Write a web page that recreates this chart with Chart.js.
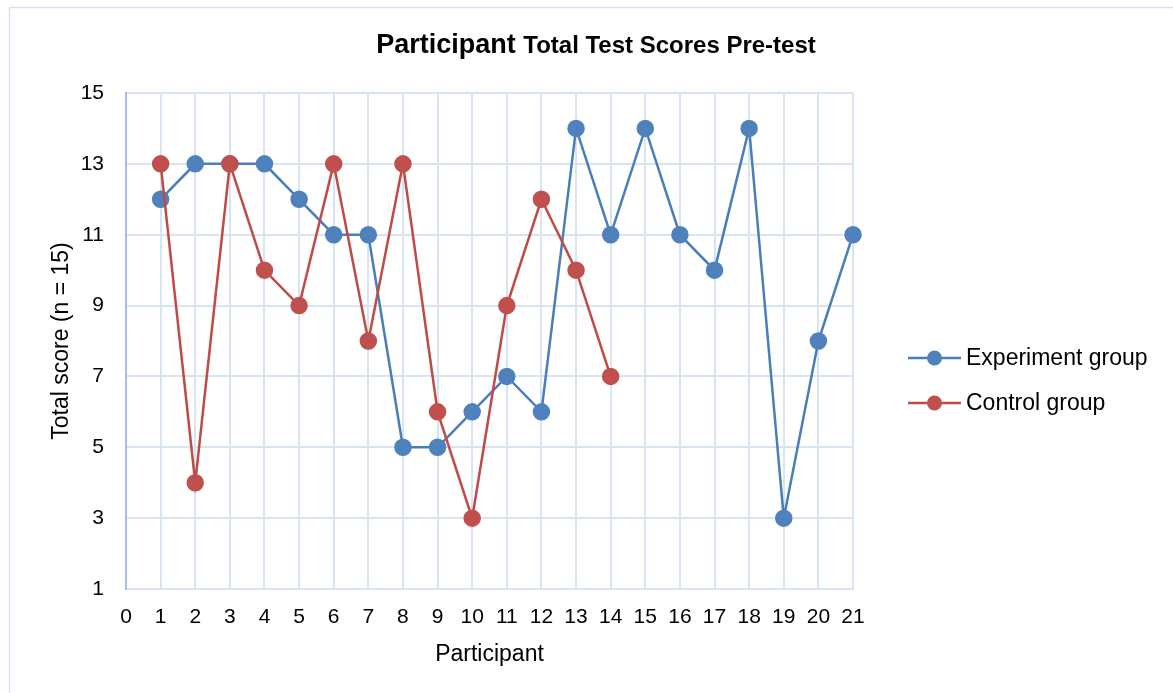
<!DOCTYPE html>
<html>
<head>
<meta charset="utf-8">
<script src="https://cdn.jsdelivr.net/npm/chart.js@4.4.1/dist/chart.umd.min.js"></script>
<style>
  body { margin: 0; background: #fff; }
  #wrap { width: 1173px; height: 693px; position: relative; }
</style>
</head>
<body>
<div id="wrap"><canvas id="grafico"></canvas></div>
<script>
const participantes = [1, 2, 3, 4, 5, 6, 7, 8, 9, 10, 11, 12, 13, 14, 15, 16, 17, 18, 19, 20, 21];
const experimento = [12, 13, 13, 13, 12, 11, 11, 5, 5, 6, 7, 6, 14, 11, 14, 11, 10, 14, 3, 8, 11];
const controle = [13, 4, 13, 10, 9, 13, 8, 13, 6, 3, 9, 12, 10, 7];
const nomes = ['Experiment group', 'Control group'];
const yTicks = [1, 3, 5, 7, 9, 11, 13, 15];

const azul = '#4a7ebb';
const vermelho = '#be4b48';
const grade = '#d9e4f3';
const fonte = "'Liberation Sans', Arial, sans-serif";

function pontos(valores) {
  return valores.map((v, i) => ({ x: participantes[i], y: v }));
}

// moldura externa + titulo com dois tamanhos
const moldura = {
  id: 'moldura',
  beforeDraw(chart) {
    const ctx = chart.ctx;
    ctx.save();
    ctx.strokeStyle = '#d6e2f1';
    ctx.lineWidth = 1.5;
    ctx.strokeRect(9.5, 7.5, 3000, 3000);
    ctx.restore();
  },
  afterDraw(chart) {
    const ctx = chart.ctx;
    ctx.save();
    ctx.fillStyle = '#000';
    ctx.textBaseline = 'alphabetic';
    const a = 'Participant ';
    const b = 'Total Test Scores Pre-test';
    ctx.font = 'bold 27px ' + fonte;
    const wa = ctx.measureText(a).width;
    ctx.font = 'bold 24px ' + fonte;
    const wb = ctx.measureText(b).width;
    let x = 596 - (wa + wb) / 2;
    ctx.font = 'bold 27px ' + fonte;
    ctx.fillText(a, x, 53);
    ctx.font = 'bold 24px ' + fonte;
    ctx.fillText(b, x + wa, 53);
    ctx.restore();
  }
};

// legenda com linha e marcador
const legenda = {
  id: 'legenda',
  afterDraw(chart) {
    const ctx = chart.ctx;
    ctx.save();
    chart.data.datasets.forEach((ds, i) => {
      const y = 358 + 45 * i;
      ctx.strokeStyle = ds.borderColor;
      ctx.lineWidth = 2.5;
      ctx.beginPath();
      ctx.moveTo(908, y);
      ctx.lineTo(961, y);
      ctx.stroke();
      ctx.fillStyle = ds.pointBackgroundColor;
      ctx.beginPath();
      ctx.arc(934.5, y, 7.5, 0, Math.PI * 2);
      ctx.fill();
      ctx.fillStyle = '#000';
      ctx.font = '23px ' + fonte;
      ctx.textBaseline = 'middle';
      ctx.fillText(ds.label, 966, y + 1);
    });
    ctx.restore();
  }
};

const ctx = document.getElementById('grafico').getContext('2d');
const grafico = new Chart(ctx, {
  type: 'line',
  data: {
    datasets: [
      {
        label: nomes[0],
        data: pontos(experimento),
        borderColor: azul,
        backgroundColor: azul,
        pointBackgroundColor: '#4f81bd',
        pointBorderColor: '#4f81bd',
        borderWidth: 2.5,
        pointRadius: 7.5,
        pointHoverRadius: 7.5,
        tension: 0,
        clip: false,
        order: 2
      },
      {
        label: nomes[1],
        data: pontos(controle),
        borderColor: vermelho,
        backgroundColor: vermelho,
        pointBackgroundColor: '#c0504d',
        pointBorderColor: '#c0504d',
        borderWidth: 2.5,
        pointRadius: 7.5,
        pointHoverRadius: 7.5,
        tension: 0,
        clip: false,
        order: 1
      }
    ]
  },
  options: {
    responsive: true,
    maintainAspectRatio: false,
    animation: false,
    layout: { padding: { top: 93, right: 320, bottom: 0, left: 0 } },
    plugins: {
      legend: { display: false },
      title: { display: false },
      tooltip: { enabled: false }
    },
    scales: {
      x: {
        type: 'linear',
        min: 0,
        max: 21,
        afterFit(scale) { scale.height = 104; },
        ticks: { stepSize: 1, padding: 16, color: '#000', font: { family: fonte, size: 21 } },
        grid: { color: grade, lineWidth: 2, drawTicks: false },
        border: { color: grade, width: 2 },
        title: {
          display: true,
          text: 'Participant',
          color: '#000',
          font: { family: fonte, size: 23 },
          padding: { top: 0, bottom: 25 }
        }
      },
      y: {
        min: 1,
        max: 15,
        afterFit(scale) { scale.width = 126; },
        afterBuildTicks(scale) { scale.ticks = yTicks.map(v => ({ value: v })); },
        ticks: { stepSize: 2, padding: 22, color: '#000', font: { family: fonte, size: 21 } },
        grid: { color: grade, lineWidth: 2, drawTicks: false },
        border: { color: '#a4c0e6', width: 2 },
        title: {
          display: true,
          text: 'Total score (n = 15)',
          color: '#000',
          font: { family: fonte, size: 23 },
          padding: { top: 48, bottom: 0 }
        }
      }
    }
  },
  plugins: [moldura, legenda]
});
</script>
</body>
</html>
